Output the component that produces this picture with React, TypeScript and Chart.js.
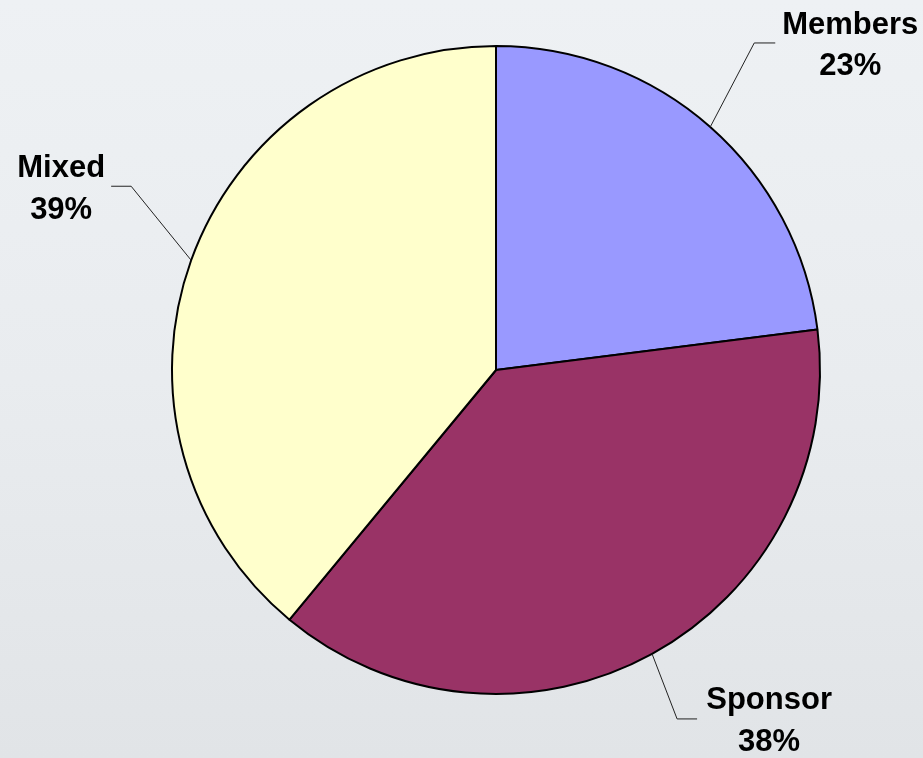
import React, { useEffect, useRef } from "react";
import { Chart, registerables } from "chart.js";

Chart.register(...registerables);

const categories = ["Members", "Sponsor", "Mixed"];
const shares = [23, 38, 39];
const colors = ["#9999FF", "#993366", "#FFFFCC"];
// leader-line elbow offset from slice edge, and horizontal tail length
const elbowOffsets = [
  [44, -84, 21],
  [25, 65, 20],
  [-60, -74, -20],
];
// text anchor offsets from leader end (center x, first baseline, second baseline)
const textOffsets = [
  [75, -9, 32],
  [72, -10, 32],
  [-50, -9, 33],
];

const labelPlugin = {
  id: "pieLabels",
  afterDatasetsDraw(chart: any) {
    const ctx = chart.ctx as CanvasRenderingContext2D;
    const meta = chart.getDatasetMeta(0);
    ctx.save();
    meta.data.forEach((arc: any, i: number) => {
      const { x, y, startAngle, endAngle, outerRadius } = arc.getProps(
        ["x", "y", "startAngle", "endAngle", "outerRadius"],
        true
      );
      const mid = (startAngle + endAngle) / 2;
      const ex = x + Math.cos(mid) * outerRadius;
      const ey = y + Math.sin(mid) * outerRadius;
      const [dx, dy, tail] = elbowOffsets[i];
      const bx = ex + dx;
      const by = ey + dy;
      const tx = bx + tail;
      ctx.beginPath();
      ctx.strokeStyle = "#222";
      ctx.lineWidth = 1;
      ctx.moveTo(ex, ey);
      ctx.lineTo(bx, by);
      ctx.lineTo(tx, by);
      ctx.stroke();
      const [cx, b1, b2] = textOffsets[i];
      ctx.fillStyle = "#000";
      ctx.font = "bold 31px 'Liberation Sans', Arial, sans-serif";
      ctx.textAlign = "center";
      ctx.textBaseline = "alphabetic";
      ctx.fillText(categories[i], tx + cx, by + b1);
      ctx.fillText(shares[i] + "%", tx + cx, by + b2);
    });
    ctx.restore();
  },
};

const bgPlugin = {
  id: "bg",
  beforeDraw(chart: any) {
    const ctx = chart.ctx as CanvasRenderingContext2D;
    const { width, height } = chart;
    const g = ctx.createLinearGradient(0, 0, 0, height);
    g.addColorStop(0, "#eef1f4");
    g.addColorStop(0.5, "#e9ecef");
    g.addColorStop(1, "#e1e4e7");
    ctx.save();
    ctx.fillStyle = g;
    ctx.fillRect(0, 0, width, height);
    ctx.restore();
  },
};

export default function App() {
  const ref = useRef<HTMLCanvasElement>(null);
  useEffect(() => {
    document.body.style.margin = "0";
    const chart = new Chart(ref.current as HTMLCanvasElement, {
      type: "pie",
      data: {
        labels: categories,
        datasets: [
          {
            data: shares,
            backgroundColor: colors,
            borderColor: "#000",
            borderWidth: 2,
          },
        ],
      },
      options: {
        animation: false,
        responsive: false,
        layout: { padding: { top: 45, bottom: 63, left: 171, right: 102 } },
        plugins: {
          legend: { display: false },
          tooltip: { enabled: false },
        },
      },
      plugins: [bgPlugin, labelPlugin],
    });
    return () => chart.destroy();
  }, []);
  return (
    <div style={{ position: "absolute", left: 0, top: 0, width: 923, height: 758 }}>
      <canvas ref={ref} width={923} height={758} style={{ width: 923, height: 758 }} />
    </div>
  );
}
